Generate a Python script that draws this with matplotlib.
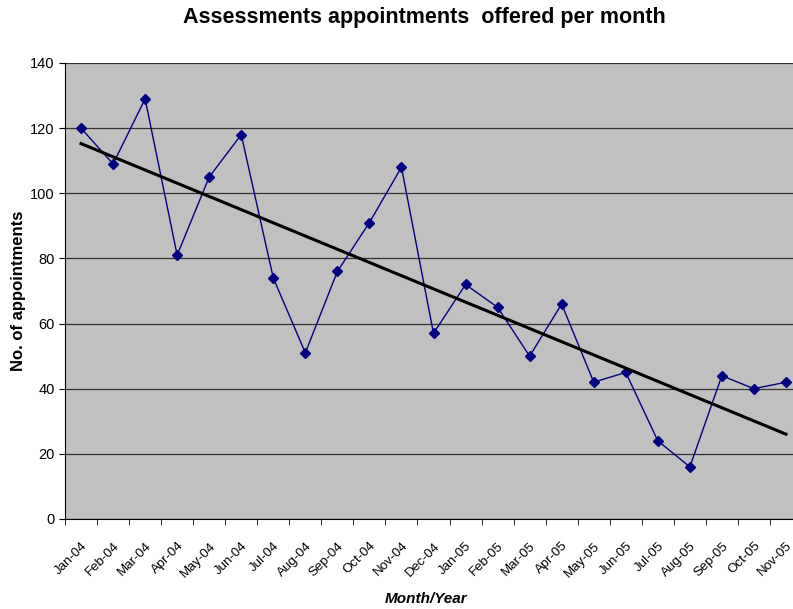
import matplotlib
matplotlib.use("Agg")
import matplotlib.pyplot as plt
import numpy as np

plt.rcParams['font.family'] = ['Liberation Sans', 'DejaVu Sans']

months = ['Jan-04', 'Feb-04', 'Mar-04', 'Apr-04', 'May-04', 'Jun-04', 'Jul-04',
          'Aug-04', 'Sep-04', 'Oct-04', 'Nov-04', 'Dec-04', 'Jan-05', 'Feb-05',
          'Mar-05', 'Apr-05', 'May-05', 'Jun-05', 'Jul-05', 'Aug-05', 'Sep-05',
          'Oct-05', 'Nov-05']
appointments = [120, 109, 129, 81, 105, 118, 74, 51, 76, 91, 108, 57, 72, 65,
                50, 66, 42, 45, 24, 16, 44, 40, 42]

x = np.arange(len(months))
y = np.array(appointments)

# lineare Trendlinie wie in Excel
slope, icpt = np.polyfit(x, y, 1)

fig = plt.figure(figsize=(7.93, 6.09), dpi=100)
ax = fig.add_axes([65 / 793, 90 / 609, 737 / 793, 456 / 609])
ax.set_facecolor('#c0c0c0')

ax.plot(x, y, color='#000080', linewidth=1.0, marker='D', markersize=5,
        zorder=3)
ax.plot(x, slope * x + icpt, color='black', linewidth=2.2, zorder=4)

ax.set_xlim(-0.5, len(months) - 0.5)
ax.set_ylim(0, 140)
ax.set_yticks(range(0, 141, 20))
ax.yaxis.grid(True, color='#333333', linewidth=0.9)
ax.set_axisbelow(True)

ax.set_xticks(x)
ax.set_xticklabels(months, rotation=45, ha='right', rotation_mode='anchor',
                   fontsize=9.5)
ax.set_xticks(np.arange(-0.5, len(months), 1), minor=True)
ax.tick_params(axis='x', which='major', length=0, pad=15)
ax.tick_params(axis='x', which='minor', length=4, color='black')
ax.tick_params(axis='y', labelsize=10.5, length=4)

for s in ['top', 'right']:
    ax.spines[s].set_visible(False)
ax.spines['left'].set_color('black')
ax.spines['bottom'].set_color('black')

ax.set_ylabel('No. of appointments', fontsize=12, fontweight='bold', labelpad=3)
fig.text(0.537, 1 - 599 / 609, 'Month/Year', ha='center', va='center',
         fontsize=11, fontweight='bold', style='italic')
fig.text(0.535, 0.972, 'Assessments appointments  offered per month',
         ha='center', va='center', fontsize=15.5, fontweight='bold')

fig.savefig('out.png', dpi=100)
